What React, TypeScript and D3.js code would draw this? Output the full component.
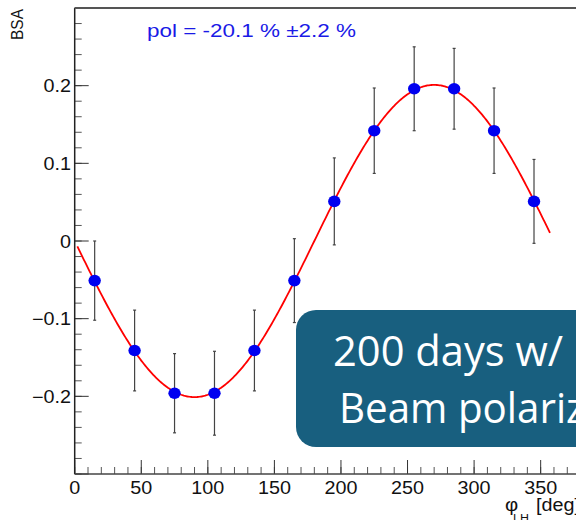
import React from "react";
import * as d3 from "d3";

const phiValues = [15, 45, 75, 105, 135, 165, 195, 225, 255, 285, 315, 345];
const bsaValues = [-0.051, -0.141, -0.196, -0.196, -0.141, -0.051, 0.051, 0.142, 0.196, 0.196, 0.142, 0.051];
const bsaErrors = [0.051, 0.052, 0.051, 0.054, 0.052, 0.054, 0.056, 0.055, 0.054, 0.052, 0.055, 0.054];
const xTickLabels = [0, 50, 100, 150, 200, 250, 300, 350];
const yTickLabels = [-0.2, -0.1, 0, 0.1, 0.2];
const fitAmplitude = -0.201;
const fitRange = [2, 357];
const polText = "pol = -20.1 %  \u00b12.2 %";
const boxLines = ["200 days w/", "Beam polariz"];

const W = 576;
const H = 520;
const FONT = "'Liberation Sans', Arial, Helvetica, sans-serif";
const SX = 1.13;

function T({ x, y, anchor = "start", size = 17, fill = "#111", sx = SX, children }: any) {
  return (
    <text
      transform={`translate(${x},${y}) scale(${sx},1)`}
      textAnchor={anchor}
      fontSize={size}
      fontFamily={FONT}
      fill={fill}
    >
      {children}
    </text>
  );
}

export default function App() {
  const x = d3.scaleLinear().domain([0, 380]).range([74.7, 580.6]);
  const y = d3.scaleLinear().domain([-0.3, 0.3]).range([474, 8]);
  const x0 = x(0);
  const yB = y(-0.3);
  const yT = y(0.3);

  const minorY = d3.range(-0.3, 0.3001, 0.02).map((v) => +v.toFixed(3));
  const majorY = d3.range(-0.3, 0.3001, 0.1).map((v) => +v.toFixed(3));
  const minorX = d3.range(0, 380, 10);
  const majorX = d3.range(0, 380, 50);

  const fitPts = d3.range(fitRange[0], fitRange[1] + 0.01, 1).map((p) => [p, fitAmplitude * Math.sin((p * Math.PI) / 180)] as [number, number]);
  const line = d3.line<[number, number]>().x((d) => x(d[0])).y((d) => y(d[1]));

  const fmtY = (v: number) => (v === 0 ? "0" : (v < 0 ? "\u2212" : "") + Math.abs(v).toFixed(1));

  return (
    <svg width={W} height={H} style={{ position: "fixed", left: 0, top: 0, background: "#fff" }}>
      <rect x={0} y={0} width={W} height={H} fill="#fff" />
      {/* y ticks */}
      {minorY.map((v, i) => (
        <line key={"my" + i} x1={x0} x2={x0 + 7} y1={y(v)} y2={y(v)} stroke="#555" strokeWidth={1} />
      ))}
      {majorY.map((v, i) => (
        <line key={"My" + i} x1={x0} x2={x0 + 14} y1={y(v)} y2={y(v)} stroke="#333" strokeWidth={1} />
      ))}
      {/* x ticks */}
      {minorX.map((v, i) => (
        <line key={"mx" + i} x1={x(v)} x2={x(v)} y1={yB} y2={yB - 7} stroke="#555" strokeWidth={1} />
      ))}
      {majorX.map((v, i) => (
        <line key={"Mx" + i} x1={x(v)} x2={x(v)} y1={yB} y2={yB - 14} stroke="#333" strokeWidth={1} />
      ))}
      {/* frame */}
      <line x1={x0} x2={x0} y1={yT} y2={yB} stroke="#222" strokeWidth={1.5} />
      <line x1={x0} x2={W} y1={yB} y2={yB} stroke="#444" strokeWidth={1.5} />
      <line x1={x0} x2={W} y1={yT} y2={yT} stroke="#555" strokeWidth={1.8} />

      {/* tick labels */}
      {xTickLabels.map((v) => (
        <T key={"xl" + v} x={x(v)} y={494} anchor="middle" size={17.5}>
          {v}
        </T>
      ))}
      {yTickLabels.map((v) => (
        <T key={"yl" + v} x={71} y={y(v) + 6.5} anchor="end" size={17.5}>
          {fmtY(v)}
        </T>
      ))}

      {/* axis titles */}
      <text transform="translate(23,9) rotate(-90) scale(1,1.12)" textAnchor="end" fontSize={15.5} fontFamily={FONT} fill="#111">
        BSA
      </text>
      <T x={505} y={511} size={18}>{"\u03c6"}</T>
      <T x={513} y={522} size={11}>LH</T>
      <T x={536} y={511} size={17.5}>[deg]</T>

      {/* fit curve */}
      <path d={line(fitPts) || ""} fill="none" stroke="#f00" strokeWidth={1.8} />

      {/* error bars and points */}
      {phiValues.map((p, i) => {
        const cx = x(p);
        const yt = y(bsaValues[i] + bsaErrors[i]);
        const yb = y(bsaValues[i] - bsaErrors[i]);
        return (
          <g key={"pt" + i}>
            <line x1={cx} x2={cx} y1={yt} y2={yb} stroke="#444" strokeWidth={1.2} />
            <line x1={cx - 1.5} x2={cx + 1.5} y1={yt} y2={yt} stroke="#444" strokeWidth={1.2} />
            <line x1={cx - 1.5} x2={cx + 1.5} y1={yb} y2={yb} stroke="#444" strokeWidth={1.2} />
            <ellipse cx={cx} cy={y(bsaValues[i])} rx={6.2} ry={5.8} fill="#0000f0" />
          </g>
        );
      })}

      {/* pol text */}
      <text x={147} y={37} fontSize={18.5} fontFamily={FONT} fill="#1a1ae6" textLength={209} lengthAdjust="spacingAndGlyphs">
        {polText}
      </text>

      {/* overlay box */}
      <rect x={296} y={310} width={320} height={137} rx={20} ry={20} fill="#185f7f" />
      <text x={333} y={366} fontSize={42} fontFamily="'Open Sans', sans-serif" fill="#fff" textLength={230} lengthAdjust="spacingAndGlyphs">
        {boxLines[0]}
      </text>
      <text x={339} y={423} fontSize={42} fontFamily="'Open Sans', sans-serif" fill="#fff" textLength={246} lengthAdjust="spacingAndGlyphs">
        {boxLines[1]}
      </text>
    </svg>
  );
}
